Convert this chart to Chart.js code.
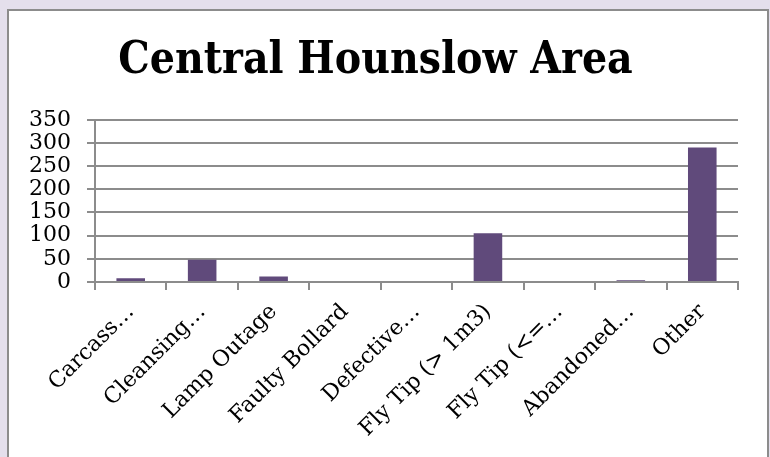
<!DOCTYPE html>
<html>
<head>
<meta charset="utf-8">
<script src="https://cdn.jsdelivr.net/npm/chart.js@4/dist/chart.umd.min.js"></script>
<style>
    html, body {
        margin: 0;
        padding: 0;
        background: #e4dfec;
        overflow: hidden;
    }
    #panel {
        position: absolute;
        left: 7px;
        top: 9px;
        width: 758px;
        height: 470px;
        background: #ffffff;
        border: 2px solid #8c8c8c;
    }
    #wrap {
        position: absolute;
        left: 0;
        top: 0;
        width: 770px;
        height: 457px;
    }
</style>
</head>
<body>
<div id="panel"></div>
<div id="wrap"><canvas id="chart"></canvas></div>
<script>
// Chart data
const categories = [
    'Carcass\u2026',
    'Cleansing\u2026',
    'Lamp Outage',
    'Faulty Bollard',
    'Defective\u2026',
    'Fly Tip (> 1m3)',
    'Fly Tip (<=\u2026',
    'Abandoned\u2026',
    'Other'
];
const reportCounts = [8, 48, 12, 0, 0, 105, 0, 4, 290];
const yTicks = [0, 50, 100, 150, 200, 250, 300, 350];

const chartTitle = 'Central Hounslow Area';
const barColor = '#604a7b';
const gridColor = '#8c8c8c';

const ctx = document.getElementById('chart').getContext('2d');

new Chart(ctx, {
    type: 'bar',
    data: {
        labels: categories,
        datasets: [{
            label: 'Reports',
            data: reportCounts,
            backgroundColor: barColor,
            borderWidth: 0,
            categoryPercentage: 1,
            barPercentage: 0.4
        }]
    },
    options: {
        responsive: true,
        maintainAspectRatio: false,
        animation: false,
        layout: {
            padding: { top: 30, left: 13, right: 32, bottom: 20 }
        },
        plugins: {
            legend: { display: false },
            tooltip: { enabled: false },
            title: {
                display: true,
                text: chartTitle,
                color: '#000000',
                font: { family: '"DejaVu Serif Condensed", "DejaVu Serif", serif', size: 44, weight: 'bold', lineHeight: 1.2 },
                padding: { top: 5, bottom: 32 }
            }
        },
        scales: {
            x: {
                offset: true,
                // keep the plot bottom where the reference has it
                afterFit: (scale) => {
                    scale.height = 155;
                },
                grid: {
                    offset: true,
                    drawOnChartArea: false,
                    drawTicks: true,
                    tickLength: 8,
                    color: gridColor,
                    lineWidth: 2
                },
                border: { color: gridColor, width: 2 },
                ticks: {
                    color: '#000000',
                    minRotation: 45,
                    maxRotation: 45,
                    autoSkip: false,
                    padding: 9,
                    font: { family: '"DejaVu Serif", serif', size: 22 }
                }
            },
            y: {
                min: 0,
                max: 350,
                afterBuildTicks: (scale) => {
                    scale.ticks = yTicks.map(v => ({ value: v }));
                },
                grid: {
                    color: gridColor,
                    lineWidth: 2,
                    tickLength: 8
                },
                border: { color: gridColor, width: 2 },
                ticks: {
                    color: '#000000',
                    autoSkip: false,
                    padding: 16,
                    font: { family: '"DejaVu Serif", serif', size: 22, lineHeight: 1 }
                }
            }
        }
    }
});
</script>
</body>
</html>
